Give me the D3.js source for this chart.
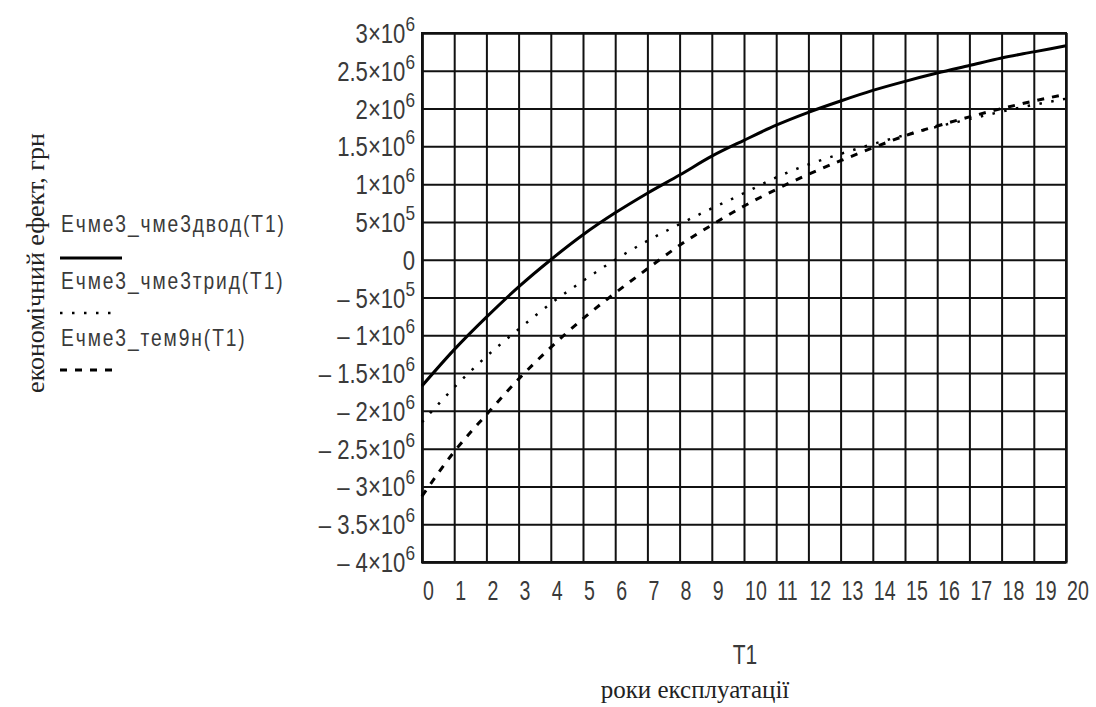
<!DOCTYPE html>
<html lang="uk">
<head>
    <meta charset="UTF-8">
    <title>економічний ефект</title>
    <script src="https://cdn.jsdelivr.net/npm/d3@7"></script>
    <style>
        body {
            margin: 0;
            background: #fff;
        }

        svg {
            width: 1096px;
            height: 707px;
            display: block;
        }

        .grid line, .grid path {
            stroke: #111;
            stroke-width: 2px;
        }

        .tick-label {
            font-family: "Liberation Sans", Arimo, sans-serif;
            fill: #3a3a3a;
        }

        .serif {
            font-family: "Liberation Serif", "DejaVu Serif", serif;
            fill: #222;
        }

        .curve {
            fill: none;
            stroke: #000;
        }
    </style>
</head>
<body>
<svg></svg>

<script>

    // роки експлуатації
    var years = [0, 1, 2, 3, 4, 5, 6, 7, 8, 9, 10, 11, 12, 13, 14, 15, 16, 17, 18, 19, 20];

    // Ечме3_чме3двод(T1)
    var dvodValues = [-1.67e6, -1.19e6, -0.76e6, -0.36e6, 0.0, 0.33e6, 0.62e6, 0.88e6, 1.12e6, 1.37e6, 1.58e6,
        1.78e6, 1.95e6, 2.10e6, 2.24e6, 2.36e6, 2.47e6, 2.57e6, 2.67e6, 2.75e6, 2.83e6];

    // Ечме3_чме3трид(T1)
    var trydValues = [-2.15e6, -1.69e6, -1.28e6, -0.92e6, -0.58e6, -0.28e6, 0.0, 0.25e6, 0.47e6, 0.68e6, 0.88e6,
        1.09e6, 1.26e6, 1.40e6, 1.53e6, 1.65e6, 1.76e6, 1.86e6, 1.96e6, 2.05e6, 2.13e6];

    // Ечме3_тем9н(T1)
    var temValues = [-3.13e6, -2.54e6, -2.05e6, -1.58e6, -1.16e6, -0.78e6, -0.44e6, -0.12e6, 0.19e6, 0.46e6, 0.71e6,
        0.93e6, 1.13e6, 1.31e6, 1.48e6, 1.64e6, 1.77e6, 1.89e6, 2.00e6, 2.10e6, 2.19e6];

    var seriesNames = ['Ечме3_чме3двод(T1)', 'Ечме3_чме3трид(T1)', 'Ечме3_тем9н(T1)'];

    var yTicks = [3e6, 2.5e6, 2e6, 1.5e6, 1e6, 5e5, 0, -5e5, -1e6, -1.5e6, -2e6, -2.5e6, -3e6, -3.5e6, -4e6];
    var yTickMantissa = ['3', '2.5', '2', '1.5', '1', '5', '0', '5', '1', '1.5', '2', '2.5', '3', '3.5', '4'];
    var yTickExponent = ['6', '6', '6', '6', '6', '5', '', '5', '6', '6', '6', '6', '6', '6', '6'];

    var svg = d3.select('svg');

    var x = d3.scaleLinear().domain([0, 20]).range([422, 1066]);
    var y = d3.scaleLinear().domain([-4e6, 3e6]).range([562, 33]);

    // сітка
    svg.append('g')
        .attr('class', 'grid')
        .attr('transform', 'translate(0,562)')
        .call(d3.axisBottom(x).tickValues(years).tickSize(-(562 - 33)).tickFormat(''));

    svg.append('g')
        .attr('class', 'grid')
        .attr('transform', 'translate(422,0)')
        .call(d3.axisLeft(y).tickValues(yTicks).tickSize(-(1066 - 422)).tickFormat(''));

    svg.append('rect')
        .attr('x', 422).attr('y', 33)
        .attr('width', 1066 - 422).attr('height', 562 - 33)
        .attr('fill', 'none').attr('stroke', '#111').attr('stroke-width', 2);

    // підписи осі X (вузький шрифт -> стискаємо по горизонталі)
    svg.selectAll('.xlab')
        .data(years)
        .enter()
        .append('text')
        .attr('class', 'tick-label xlab')
        .attr('transform', function (d) { return 'translate(' + (x(d) + 1) + ',600) scale(0.7,1)'; })
        .attr('font-size', 28)
        .text(function (d) { return d; });

    // підписи осі Y
    var ylab = svg.selectAll('.ylab')
        .data(yTicks)
        .enter()
        .append('text')
        .attr('class', 'tick-label ylab')
        .attr('transform', function (d) { return 'translate(415,' + (y(d) + 10) + ') scale(0.82,1)'; })
        .attr('font-size', 27)
        .attr('text-anchor', 'end');

    ylab.each(function (d, i) {
        var t = d3.select(this);
        var m = yTickMantissa[i];
        if (d === 0) {
            t.text(m);
            return;
        }
        t.append('tspan').text((d < 0 ? '\u2013 ' : '') + m + '\u00d710');
        t.append('tspan')
            .attr('dy', -12)
            .attr('font-size', 21)
            .text(yTickExponent[i]);
    });

    svg.append('text')
        .attr('class', 'tick-label')
        .attr('transform', 'translate(745,664) scale(0.75,1)')
        .attr('font-size', 28)
        .attr('text-anchor', 'middle')
        .text('T1');

    svg.append('text')
        .attr('class', 'serif')
        .attr('x', 695)
        .attr('y', 698)
        .attr('font-size', 25)
        .attr('text-anchor', 'middle')
        .text('роки експлуатації');

    svg.append('text')
        .attr('class', 'serif')
        .attr('transform', 'translate(44,263) rotate(-90)')
        .attr('font-size', 26)
        .attr('text-anchor', 'middle')
        .text('економічний ефект, грн');

    // криві
    var line = d3.line()
        .x(function (d) { return x(d[0]); })
        .y(function (d) { return y(d[1]); })
        .curve(d3.curveMonotoneX);

    var styles = [
        {width: 3, dash: null},
        {width: 2.5, dash: '2.5,9.5'},
        {width: 3, dash: '7,8'}
    ];

    [dvodValues, trydValues, temValues].forEach(function (vals, i) {
        svg.append('path')
            .datum(years.map(function (yr, j) { return [yr, vals[j]]; }))
            .attr('class', 'curve')
            .attr('stroke-width', styles[i].width)
            .attr('stroke-dasharray', styles[i].dash)
            .attr('d', line);
    });

    // легенда
    var legendY = [232, 289, 346];
    var legendLineY = [258, 313, 370];
    var legendLineLen = [62, 54, 56];

    seriesNames.forEach(function (name, i) {
        svg.append('text')
            .attr('class', 'tick-label')
            .attr('transform', 'translate(61,' + legendY[i] + ') scale(0.8,1)')
            .attr('font-size', 24)
            .attr('letter-spacing', 2.4)
            .text(name);

        svg.append('line')
            .attr('x1', 60).attr('x2', 60 + legendLineLen[i])
            .attr('y1', legendLineY[i]).attr('y2', legendLineY[i])
            .attr('stroke', '#000')
            .attr('stroke-width', styles[i].width)
            .attr('stroke-dasharray', styles[i].dash);
    });

</script>

</body>
</html>
